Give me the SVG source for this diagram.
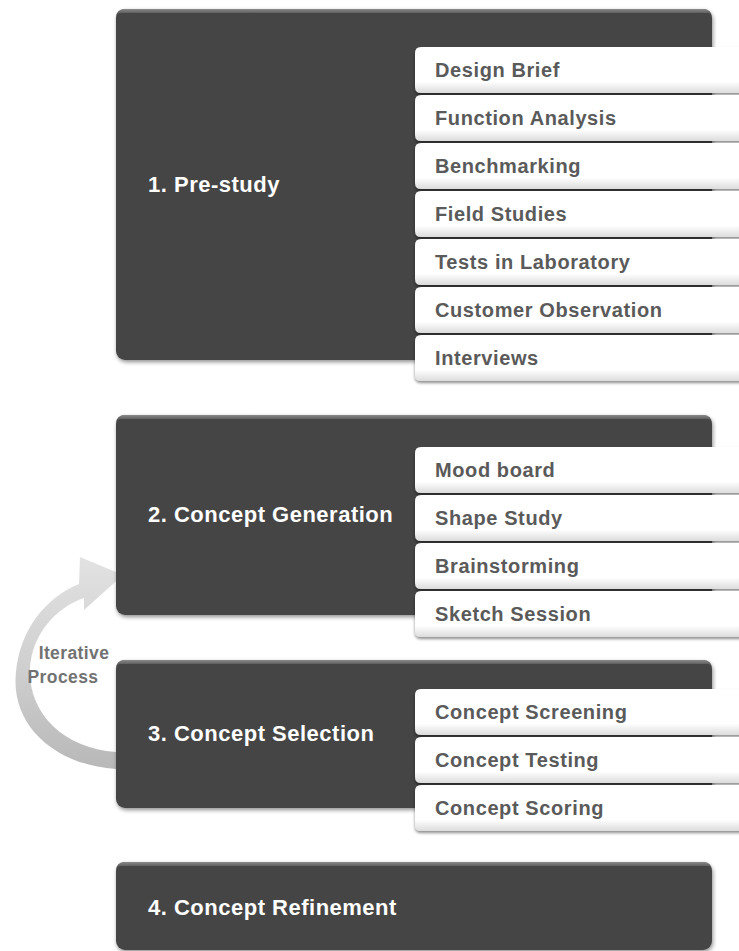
<svg xmlns="http://www.w3.org/2000/svg" width="739" height="951" viewBox="0 0 739 951">
<defs>
<style>
.box{fill:#454545;filter:url(#sh);}
.bev{fill:url(#bevel);}
.item{fill:url(#itemg);filter:url(#sh2);}
.t{font-family:"Liberation Sans",Arial,sans-serif;font-weight:bold;fill:#ffffff;font-size:22px;letter-spacing:0.5px;}
.it{font-family:"Liberation Sans",Arial,sans-serif;font-weight:bold;fill:#5a5a5a;font-size:20px;letter-spacing:0.6px;}
.lbl{font-family:"Liberation Sans",Arial,sans-serif;font-weight:bold;fill:#727272;font-size:17.5px;letter-spacing:0.4px;}
</style>
<filter id="sh" x="-5%" y="-5%" width="110%" height="115%">
<feGaussianBlur in="SourceAlpha" stdDeviation="2"/>
<feOffset dx="1" dy="2" result="b"/>
<feComponentTransfer><feFuncA type="linear" slope="0.45"/></feComponentTransfer>
<feMerge><feMergeNode/><feMergeNode in="SourceGraphic"/></feMerge>
</filter>
<filter id="sh2" x="-5%" y="-20%" width="110%" height="150%">
<feGaussianBlur in="SourceAlpha" stdDeviation="1.5"/>
<feOffset dx="0" dy="2" result="b"/>
<feComponentTransfer><feFuncA type="linear" slope="0.45"/></feComponentTransfer>
<feMerge><feMergeNode/><feMergeNode in="SourceGraphic"/></feMerge>
</filter>
<linearGradient id="bevel" x1="0" y1="0" x2="0" y2="1">
<stop offset="0" stop-color="#8a8a8a"/>
<stop offset="0.5" stop-color="#5a5a5a"/>
<stop offset="1" stop-color="#454545"/>
</linearGradient>
<linearGradient id="itemg" x1="0" y1="0" x2="0" y2="1">
<stop offset="0" stop-color="#ffffff"/>
<stop offset="0.75" stop-color="#ffffff"/>
<stop offset="1" stop-color="#dcdcdc"/>
</linearGradient>
<linearGradient id="arrg" x1="0" y1="0" x2="0" y2="1">
<stop offset="0" stop-color="#e2e2e2"/>
<stop offset="0.5" stop-color="#d0d0d0"/>
<stop offset="1" stop-color="#b8b8b8"/>
</linearGradient>
</defs>

<g id="connectors">
<path d="M116 769 C55 765 10 725 16 672 C20 630 45 598 79 584 L80 557 L123 575 L84 610 L84 598 C55 608 32 635 30 668 C28 712 62 748 116 752 Z" fill="url(#arrg)"/>
<text class="lbl" x="74" y="659" text-anchor="middle">Iterative</text>
<text class="lbl" x="63" y="683" text-anchor="middle">Process</text>
</g>

<g id="stage1">
<rect class="box" x="116" y="9" width="596" height="351" rx="9"/>
<path class="bev" d="M116 18 Q116 9 125 9 L703 9 Q712 9 712 18 L712 16 Q712 13 706 13 L122 13 Q116 13 116 18 Z"/>
<text class="t" x="148" y="192">1. Pre-study</text>
</g>
<g id="item-design-brief"><path class="item" d="M421 47 H745 V93 H421 Q415 93 415 87 V53 Q415 47 421 47 Z"/><text class="it" x="435" y="77">Design Brief</text></g>
<g id="item-function-analysis"><path class="item" d="M421 95 H745 V141 H421 Q415 141 415 135 V101 Q415 95 421 95 Z"/><text class="it" x="435" y="125">Function Analysis</text></g>
<g id="item-benchmarking"><path class="item" d="M421 143 H745 V189 H421 Q415 189 415 183 V149 Q415 143 421 143 Z"/><text class="it" x="435" y="173">Benchmarking</text></g>
<g id="item-field-studies"><path class="item" d="M421 191 H745 V237 H421 Q415 237 415 231 V197 Q415 191 421 191 Z"/><text class="it" x="435" y="221">Field Studies</text></g>
<g id="item-tests-lab"><path class="item" d="M421 239 H745 V285 H421 Q415 285 415 279 V245 Q415 239 421 239 Z"/><text class="it" x="435" y="269">Tests in Laboratory</text></g>
<g id="item-customer-observation"><path class="item" d="M421 287 H745 V333 H421 Q415 333 415 327 V293 Q415 287 421 287 Z"/><text class="it" x="435" y="317">Customer Observation</text></g>
<g id="item-interviews"><path class="item" d="M421 335 H745 V381 H421 Q415 381 415 375 V341 Q415 335 421 335 Z"/><text class="it" x="435" y="365">Interviews</text></g>

<g id="stage2">
<rect class="box" x="116" y="415" width="596" height="200" rx="9"/>
<path class="bev" d="M116 424 Q116 415 125 415 L703 415 Q712 415 712 424 L712 422 Q712 419 706 419 L122 419 Q116 419 116 424 Z"/>
<text class="t" x="148" y="522">2. Concept Generation</text>
</g>
<g id="item-mood-board"><path class="item" d="M421 447 H745 V493 H421 Q415 493 415 487 V453 Q415 447 421 447 Z"/><text class="it" x="435" y="477">Mood board</text></g>
<g id="item-shape-study"><path class="item" d="M421 495 H745 V541 H421 Q415 541 415 535 V501 Q415 495 421 495 Z"/><text class="it" x="435" y="525">Shape Study</text></g>
<g id="item-brainstorming"><path class="item" d="M421 543 H745 V589 H421 Q415 589 415 583 V549 Q415 543 421 543 Z"/><text class="it" x="435" y="573">Brainstorming</text></g>
<g id="item-sketch-session"><path class="item" d="M421 591 H745 V637 H421 Q415 637 415 631 V597 Q415 591 421 591 Z"/><text class="it" x="435" y="621">Sketch Session</text></g>

<g id="stage3">
<rect class="box" x="116" y="660" width="596" height="148" rx="9"/>
<path class="bev" d="M116 669 Q116 660 125 660 L703 660 Q712 660 712 669 L712 667 Q712 664 706 664 L122 664 Q116 664 116 669 Z"/>
<text class="t" x="148" y="741">3. Concept Selection</text>
</g>
<g id="item-concept-screening"><path class="item" d="M421 689 H745 V735 H421 Q415 735 415 729 V695 Q415 689 421 689 Z"/><text class="it" x="435" y="719">Concept Screening</text></g>
<g id="item-concept-testing"><path class="item" d="M421 737 H745 V783 H421 Q415 783 415 777 V743 Q415 737 421 737 Z"/><text class="it" x="435" y="767">Concept Testing</text></g>
<g id="item-concept-scoring"><path class="item" d="M421 785 H745 V831 H421 Q415 831 415 825 V791 Q415 785 421 785 Z"/><text class="it" x="435" y="815">Concept Scoring</text></g>

<g id="stage4">
<rect class="box" x="116" y="862" width="596" height="88" rx="9"/>
<path class="bev" d="M116 871 Q116 862 125 862 L703 862 Q712 862 712 871 L712 869 Q712 866 706 866 L122 866 Q116 866 116 871 Z"/>
<text class="t" x="148" y="915">4. Concept Refinement</text>
</g>
</svg>
